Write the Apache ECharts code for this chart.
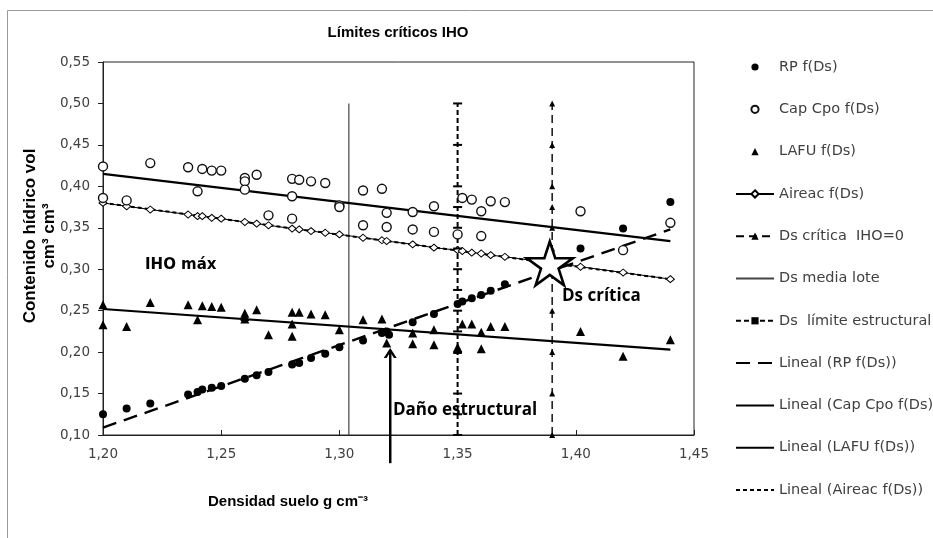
<!DOCTYPE html>
<html><head><meta charset="utf-8">
<script src="https://cdn.jsdelivr.net/npm/echarts@6/dist/echarts.min.js"></script>
<style>html,body{margin:0;padding:0;background:#fff}#c{width:933px;height:538px}</style>
</head><body><div id="c"></div>
<script>
// ---------- data ----------
const xTicks = [1.20, 1.25, 1.30, 1.35, 1.40, 1.45];
const yTicks = [0.10, 0.15, 0.20, 0.25, 0.30, 0.35, 0.40, 0.45, 0.50, 0.55];

const rpDs  = [1.200,1.210,1.220,1.236,1.240,1.242,1.246,1.250,1.260,1.265,1.270,1.280,1.283,1.288,1.294,1.300,1.310,1.318,1.320,1.321,1.331,1.340,1.350,1.352,1.356,1.360,1.364,1.370,1.402,1.420,1.440];
const rpVal = [0.125,0.132,0.138,0.149,0.152,0.155,0.157,0.159,0.168,0.172,0.176,0.185,0.187,0.193,0.198,0.206,0.214,0.223,0.225,0.221,0.236,0.246,0.258,0.261,0.265,0.269,0.274,0.282,0.325,0.349,0.381];

const capDs  = [1.200,1.200,1.210,1.220,1.236,1.240,1.242,1.246,1.250,1.260,1.260,1.260,1.265,1.270,1.280,1.280,1.280,1.283,1.288,1.294,1.300,1.300,1.310,1.310,1.318,1.320,1.320,1.331,1.331,1.340,1.340,1.350,1.352,1.356,1.360,1.360,1.364,1.370,1.402,1.420,1.440];
const capVal = [0.424,0.386,0.383,0.428,0.423,0.394,0.421,0.419,0.419,0.410,0.406,0.396,0.414,0.365,0.409,0.388,0.361,0.408,0.406,0.404,0.377,0.375,0.395,0.353,0.397,0.368,0.351,0.369,0.348,0.376,0.345,0.342,0.386,0.384,0.370,0.340,0.382,0.381,0.370,0.323,0.356];

const lafuDs  = [1.200,1.200,1.210,1.220,1.236,1.240,1.242,1.246,1.250,1.260,1.260,1.260,1.265,1.270,1.280,1.280,1.280,1.283,1.288,1.294,1.300,1.310,1.318,1.320,1.331,1.331,1.340,1.340,1.350,1.350,1.352,1.356,1.360,1.360,1.364,1.370,1.402,1.420,1.440];
const lafuVal = [0.257,0.233,0.231,0.260,0.257,0.239,0.256,0.255,0.254,0.247,0.243,0.240,0.251,0.221,0.248,0.234,0.219,0.248,0.246,0.245,0.227,0.239,0.240,0.211,0.223,0.210,0.227,0.209,0.206,0.203,0.234,0.234,0.224,0.204,0.231,0.231,0.225,0.195,0.215];

const airDs  = [1.200,1.210,1.220,1.236,1.240,1.242,1.246,1.250,1.260,1.265,1.270,1.280,1.283,1.288,1.294,1.300,1.310,1.318,1.320,1.331,1.340,1.350,1.352,1.356,1.360,1.364,1.370,1.402,1.420,1.440];
const airVal = [0.380,0.376,0.372,0.366,0.364,0.364,0.362,0.361,0.357,0.355,0.353,0.349,0.348,0.346,0.344,0.342,0.338,0.335,0.334,0.330,0.326,0.323,0.322,0.320,0.319,0.317,0.315,0.303,0.296,0.288];

const critDs  = [1.39,1.39,1.39,1.39,1.39,1.39,1.39,1.39,1.39,1.39,1.39];
const critVal = [0.10,0.15,0.20,0.25,0.30,0.325,0.35,0.375,0.40,0.45,0.50];

const mediaDs  = [1.304, 1.304];
const mediaVal = [0.10, 0.50];

const limDs  = [1.35,1.35,1.35,1.35,1.35,1.35,1.35,1.35,1.35,1.35,1.35,1.35,1.35,1.35];
const limVal = [0.10,0.125,0.15,0.20,0.225,0.25,0.275,0.30,0.325,0.35,0.375,0.40,0.45,0.50];

const trendDs     = [1.20, 1.44];
const trendRP     = [0.109, 0.348];
const trendCap    = [0.415, 0.334];
const trendLafu   = [0.252, 0.203];
const trendAir    = [0.380, 0.288];

const starPt   = [1.389, 0.307];
const arrowDs  = [1.3215, 1.3215];
const arrowVal = [0.066, 0.2025];

const names = ['RP f(Ds)','Cap Cpo f(Ds)','LAFU f(Ds)','Aireac f(Ds)','Ds crítica  IHO=0','Ds media lote','Ds  límite estructural','Lineal (RP f(Ds))','Lineal (Cap Cpo f(Ds))','Lineal (LAFU f(Ds))','Lineal (Aireac f(Ds))'];

// ---------- build ----------
const pairs = (xs, ys) => xs.map((x, i) => [x, ys[i]]);
const fmt = v => v.toFixed(2).replace('.', ',');
const STAR = 'path://M50,0 L61.23,34.55 L97.55,34.55 L68.16,55.9 L79.39,90.45 L50,69.1 L20.61,90.45 L31.84,55.9 L2.45,34.55 L38.77,34.55 Z';
const CHEV = 'path://M0,10 L6,0 L12,10 L9.4,10 L6,4.2 L2.6,10 Z';
const hidden = {opacity: 0};

function pointSeries(name, data, symbol, size, fill, border, bw) {
  return {name, type: 'line', data, symbol, symbolSize: size,
    lineStyle: {opacity: 0, width: 0, color: '#000'},
    itemStyle: {color: fill, borderColor: border, borderWidth: bw, opacity: 1},
    z: 5, silent: true, animation: false};
}
function lineSeries(name, data, width, type, color, z) {
  return {name, type: 'line', data, symbol: 'none',
    lineStyle: {color, width, type}, itemStyle: {color}, z: z || 3, silent: true, animation: false};
}

const series = [
  pointSeries(names[0], pairs(rpDs, rpVal), 'circle', 8, '#000', '#000', 0),
  pointSeries(names[1], pairs(capDs, capVal), 'circle', 9, '#fff', '#111', 1.4),
  pointSeries(names[2], pairs(lafuDs, lafuVal), 'triangle', 9, '#000', '#000', 0),
  {name: names[3], type: 'line', data: pairs(airDs, airVal), symbol: 'diamond', symbolSize: [8, 7],
    lineStyle: {color: '#000', width: 1}, itemStyle: {color: '#fff', borderColor: '#000', borderWidth: 1},
    z: 4, silent: true, animation: false},
  {name: names[4], type: 'line', data: pairs(critDs, critVal), symbol: 'triangle', symbolSize: 6,
    lineStyle: {color: '#000', width: 1.4, type: [8, 5]}, itemStyle: {color: '#000'},
    z: 4, silent: true, animation: false},
  lineSeries(names[5], pairs(mediaDs, mediaVal), 1.2, 'solid', '#444', 2),
  {name: names[6], type: 'line', data: pairs(limDs, limVal), symbol: 'rect', symbolSize: [9, 2],
    lineStyle: {color: '#000', width: 2, type: [5, 3]}, itemStyle: {color: '#000'},
    z: 4, silent: true, animation: false},
  lineSeries(names[7], pairs(trendDs, trendRP), 2.4, [14, 8], '#000'),
  lineSeries(names[8], pairs(trendDs, trendCap), 2.2, 'solid', '#000'),
  lineSeries(names[9], pairs(trendDs, trendLafu), 2.2, 'solid', '#000'),
  lineSeries(names[10], pairs(trendDs, trendAir), 2, [4, 3], '#000'),
  // annotation: arrow and star
  {name: 'arrow', type: 'line', data: pairs(arrowDs, arrowVal), symbol: 'none', clip: false,
    lineStyle: {color: '#000', width: 2.5}, z: 6, silent: true, animation: false},
  {name: 'arrowHead', type: 'scatter', data: [[arrowDs[1], arrowVal[1] + 0.0025]], symbol: CHEV,
    symbolSize: [13, 10], symbolOffset: [0, '50%'], itemStyle: {color: '#000', opacity: 1}, z: 7, silent: true, animation: false},
  {name: 'star', type: 'scatter', data: [starPt], symbol: STAR, symbolSize: 46, symbolKeepAspect: true,
    itemStyle: {color: '#fff', borderColor: '#000', borderWidth: 2.6, opacity: 1}, z: 8, silent: true, animation: false}
];

const legendData = names.map((n, i) => {
  const noSym = (i === 5 || i >= 7);
  return noSym ? {name: n, itemStyle: hidden} : {name: n};
});

const chart = echarts.init(document.getElementById('c'), null, {renderer: 'canvas'});
chart.setOption({
  animation: false,
  backgroundColor: '#fff',
  grid: {left: 103, right: 239, top: 62, bottom: 103, show: true, borderColor: '#222', borderWidth: 1, backgroundColor: 'transparent'},
  xAxis: {type: 'value', min: xTicks[0], max: xTicks[xTicks.length - 1], interval: 0.05,
    axisLine: {show: true, lineStyle: {color: '#222', width: 1}},
    axisTick: {show: true, inside: true, length: 5, lineStyle: {color: '#222'}},
    axisLabel: {formatter: fmt, fontFamily: 'DejaVu Sans', fontSize: 13.5, color: '#404040', margin: 12},
    splitLine: {show: false}},
  yAxis: {type: 'value', min: yTicks[0], max: yTicks[yTicks.length - 1], interval: 0.05,
    axisLine: {show: true, lineStyle: {color: '#222', width: 1}},
    axisTick: {show: true, inside: false, length: 5, lineStyle: {color: '#222'}},
    axisLabel: {formatter: fmt, fontFamily: 'DejaVu Sans', fontSize: 13.5, color: '#404040', margin: 13},
    splitLine: {show: false}},
  legend: {orient: 'vertical', left: 730, top: 54, itemWidth: 38, itemHeight: 9, itemGap: 26.3,
    data: legendData, selectedMode: false,
    textStyle: {fontFamily: 'DejaVu Sans', fontSize: 14.5, color: '#404040', lineHeight: 16}},
  series,
  graphic: [
    {type: 'rect', shape: {x: 7.5, y: 10.5, width: 1200, height: 1200}, style: {fill: 'none', stroke: '#9a9a9a', lineWidth: 1}, silent: true, z: 0},
    {type: 'text', x: 398, y: 33, style: {text: 'Límites críticos IHO', fontFamily: 'Liberation Sans', fontWeight: 'bold', fontSize: 15, fill: '#000', textAlign: 'center', textVerticalAlign: 'middle'}},
    {type: 'text', x: 39.5, y: 236, rotation: Math.PI / 2, style: {text: 'Contenido hídrico vol\ncm³ cm³', fontFamily: 'Liberation Sans', fontWeight: 'bold', fontSize: 17, lineHeight: 19, fill: '#000', textAlign: 'center', textVerticalAlign: 'middle'}},
    {type: 'text', x: 208, y: 502, style: {text: 'Densidad suelo g cm⁻³', fontFamily: 'Liberation Sans', fontWeight: 'bold', fontSize: 15, fill: '#000', textAlign: 'left', textVerticalAlign: 'middle'}},
    {type: 'text', x: 145, y: 265, style: {text: 'IHO máx', fontFamily: 'DejaVu Sans', fontWeight: 'bold', fontSize: 15, fill: '#000', textAlign: 'left', textVerticalAlign: 'middle'}},
    {type: 'text', x: 562, y: 296, z: 10, style: {text: 'Ds crítica', fontFamily: 'Open Sans', fontWeight: 'bold', fontSize: 17, fill: '#000', textAlign: 'left', textVerticalAlign: 'middle'}},
    {type: 'text', x: 393, y: 410, z: 10, style: {text: 'Daño estructural', fontFamily: 'Open Sans', fontWeight: 'bold', fontSize: 17, fill: '#000', textAlign: 'left', textVerticalAlign: 'middle'}}
  ]
});
</script>
</body></html>
